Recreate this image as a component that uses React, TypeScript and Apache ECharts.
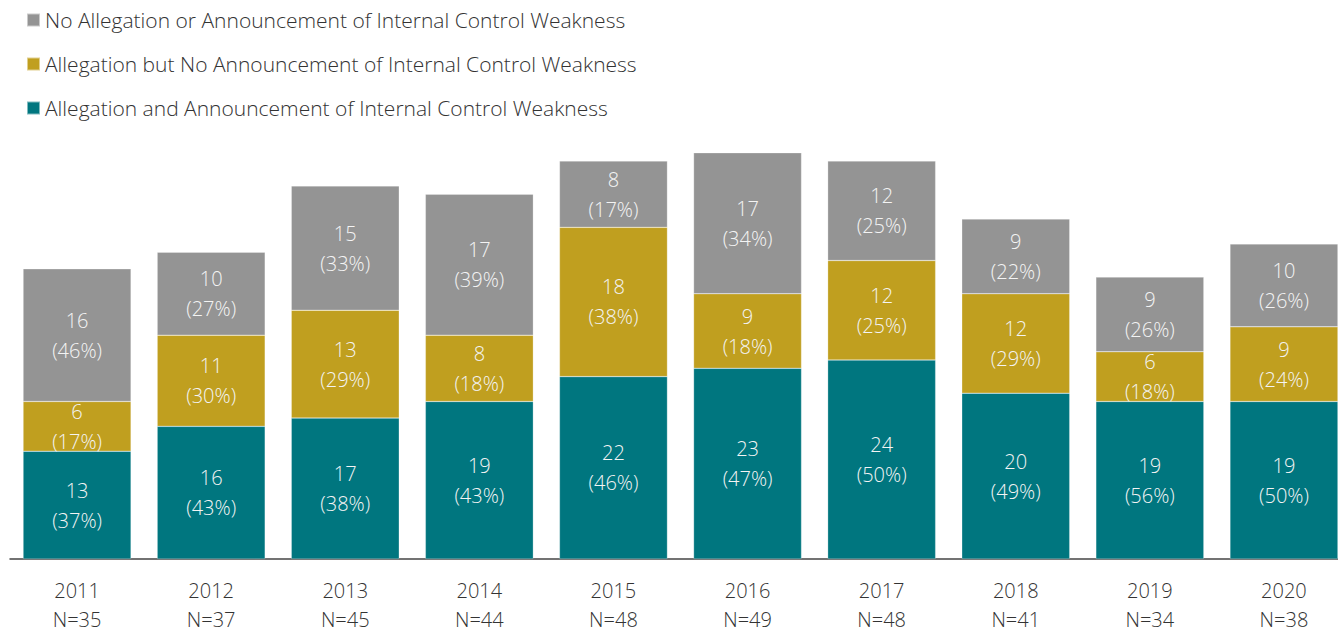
import React, { useEffect, useRef } from "react";
import * as echarts from "echarts";

const years = ["2011", "2012", "2013", "2014", "2015", "2016", "2017", "2018", "2019", "2020"];
const totals = [35, 37, 45, 44, 48, 49, 48, 41, 34, 38];
const bothVals = [13, 16, 17, 19, 22, 23, 24, 20, 19, 19];
const bothPct = [37, 43, 38, 43, 46, 47, 50, 49, 56, 50];
const allegOnlyVals = [6, 11, 13, 8, 18, 9, 12, 12, 6, 9];
const allegOnlyPct = [17, 30, 29, 18, 38, 18, 25, 29, 18, 24];
const noneVals = [16, 10, 15, 17, 8, 17, 12, 9, 9, 10];
const nonePct = [46, 27, 33, 39, 17, 34, 25, 22, 26, 26];

const FONT = "'Open Sans', Lato, sans-serif";

export default function App() {
  const ref = useRef<HTMLDivElement>(null);
  useEffect(() => {
    if (!ref.current) return;
    const chart = echarts.init(ref.current, undefined, { renderer: "svg" });
    const mk = (name: string, vals: number[], pcts: number[], color: string) => ({
      name,
      type: "bar",
      stack: "total",
      barCategoryGap: "19.5%",
      data: vals,
      itemStyle: { color, borderColor: "rgba(255,255,255,0.5)", borderWidth: 0.5 },
      label: {
        show: true,
        position: "inside",
        color: "#f4f4f4",
        fontFamily: FONT,
        fontWeight: 300,
        fontSize: 20,
        lineHeight: 30,
        formatter: (p: any) => `${vals[p.dataIndex]}\n(${pcts[p.dataIndex]}%)`,
      },
    });
    chart.setOption({
      animation: false,
      textStyle: { fontFamily: FONT },
      legend: {
        orient: "vertical",
        left: 21,
        top: 4,
        itemWidth: 13,
        itemHeight: 13,
        itemGap: 22,
        textStyle: { fontSize: 21, lineHeight: 22, fontWeight: 300, color: "#333", fontFamily: FONT },
        data: [
          { name: "No Allegation or Announcement of Internal Control Weakness", icon: "rect" },
          { name: "Allegation but No Announcement of Internal Control Weakness", icon: "rect" },
          { name: "Allegation and Announcement of Internal Control Weakness", icon: "rect" },
        ],
      },
      grid: { left: 10, top: 103, width: 1341, height: 462 },
      xAxis: {
        type: "category",
        data: years,
        axisLine: { lineStyle: { color: "#444", width: 1.5 } },
        axisTick: { length: 8, lineStyle: { color: "#444", width: 1.5 } },
        axisLabel: {
          margin: 17,
          fontSize: 20,
          fontWeight: 300,
          lineHeight: 29,
          color: "#333",
          fontFamily: FONT,
          formatter: (v: string, i: number) => `${v}\nN=${totals[i]}`,
        },
      },
      yAxis: { type: "value", min: 0, max: 55, show: false, splitLine: { show: false } },
      series: [
        mk("Allegation and Announcement of Internal Control Weakness", bothVals, bothPct, "#00767F"),
        mk("Allegation but No Announcement of Internal Control Weakness", allegOnlyVals, allegOnlyPct, "#C09F1F"),
        mk("No Allegation or Announcement of Internal Control Weakness", noneVals, nonePct, "#949494"),
      ],
    });
    return () => chart.dispose();
  }, []);
  return (
    <div style={{ position: "fixed", left: 0, top: 0, width: 1338, height: 634, overflow: "hidden", background: "#fff" }}>
      <div ref={ref} style={{ width: 1370, height: 634 }} />
    </div>
  );
}
